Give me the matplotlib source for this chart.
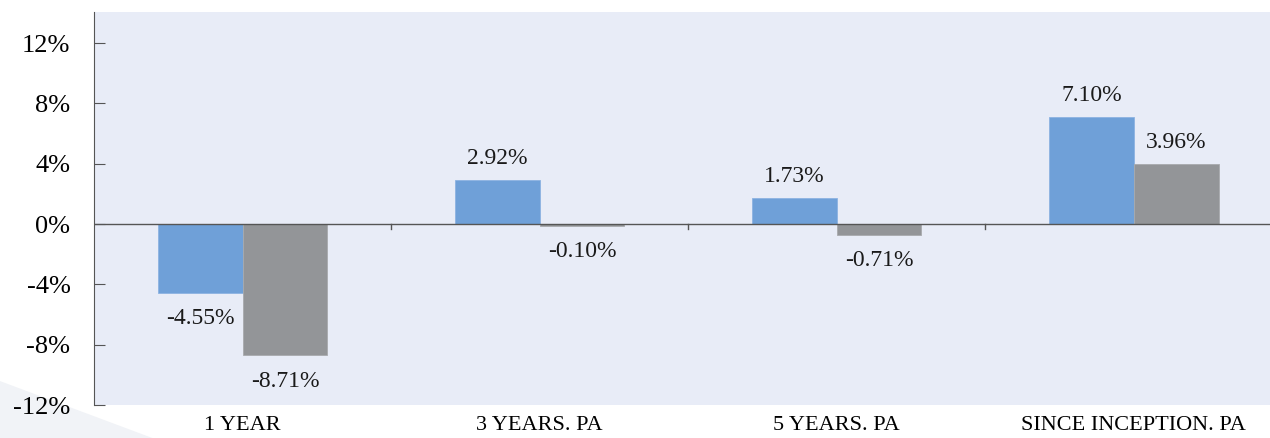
import numpy as np
import matplotlib.pyplot as plt
from matplotlib.patches import Polygon

# Dados
categorias = ['1 YEAR', '3 YEARS. PA', '5 YEARS. PA', 'SINCE INCEPTION. PA']
fundo = [-4.55, 2.92, 1.73, 7.10]
indice = [-8.71, -0.10, -0.71, 3.96]
yticks = [-12, -8, -4, 0, 4, 8, 12]

plt.rcParams['font.family'] = ['Liberation Serif', 'DejaVu Serif']

fig = plt.figure(figsize=(12.7, 4.38), dpi=100)
fig.patch.set_facecolor('white')

# faixa decorativa no canto inferior esquerdo
fig.patches.append(Polygon([[0, 0.0], [0, 0.13], [0.12, 0.0]], closed=True,
                           transform=fig.transFigure, facecolor='#F1F3F7',
                           edgecolor='none', zorder=-5))

ax = fig.add_axes([94/1270, 1 - 405/438, 1 - 94/1270, (405 - 12)/438])
ax.set_facecolor('#E8ECF7')

x = np.arange(len(categorias))
w = 0.285
b1 = ax.bar(x - w/2, fundo, w, color='#6FA0D8', edgecolor='#8DB3E2', linewidth=0.6, zorder=2)
b2 = ax.bar(x + w/2, indice, w, color='#939598', edgecolor='#A8AAAD', linewidth=0.6, zorder=2)

for bars, vals in [(b1, fundo), (b2, indice)]:
    for r, v in zip(bars, vals):
        xc = r.get_x() + r.get_width()/2
        if v >= 0:
            ax.annotate(f'{v:.2f}%', (xc, v), xytext=(0, 8), textcoords='offset points',
                        ha='center', va='bottom', fontsize=17, color='#1a1a1a')
        else:
            ax.annotate(f'{v:.2f}%', (xc, v), xytext=(0, -11), textcoords='offset points',
                        ha='center', va='top', fontsize=17, color='#1a1a1a')

ax.axhline(0, color='#555555', linewidth=1.0, zorder=3)
# marcas entre categorias na linha do zero
for xb in [0.5, 1.5, 2.5]:
    ax.plot([xb, xb], [0, -0.3], color='#555555', linewidth=1.0, zorder=3)

ax.set_xlim(-0.5, 3.458)
ax.set_ylim(-12, 14.06)
ax.set_yticks(yticks)
ax.set_yticklabels([f'{t}%' for t in yticks], fontsize=19)
ax.set_xticks(x)
ax.set_xticklabels(categorias, fontsize=16)
ax.tick_params(axis='x', length=0, pad=8)
ax.tick_params(axis='y', direction='in', length=8, color='#555555', pad=17)
for lbl in ax.get_yticklabels():
    lbl.set_horizontalalignment('right')

for s in ['top', 'right', 'bottom']:
    ax.spines[s].set_visible(False)
ax.spines['left'].set_color('#555555')

fig.savefig('out.png', dpi=100)
